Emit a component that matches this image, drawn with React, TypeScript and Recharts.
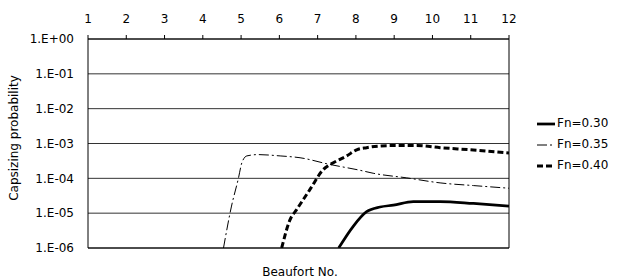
import React from 'react';
import { LineChart, Line, XAxis, YAxis, CartesianGrid, Legend, ReferenceLine } from 'recharts';

// ---- data ----
const beaufortTicks = [1, 2, 3, 4, 5, 6, 7, 8, 9, 10, 11, 12];
const probabilityTicks = [1e-6, 1e-5, 1e-4, 1e-3, 1e-2, 1e-1, 1];

const seriesNames = ['Fn=0.30', 'Fn=0.35', 'Fn=0.40'];

const fn030X = [7.55, 7.93, 8.28, 8.63, 8.98, 9.5, 10.2, 11.07, 12];
const fn030Y = [1e-6, 4.2e-6, 1.1e-5, 1.5e-5, 1.7e-5, 2.15e-5, 2.15e-5, 1.9e-5, 1.6e-5];

const fn035X = [4.54, 4.75, 4.93, 5.02, 5.15, 5.44, 6.02, 6.54, 7.32, 8.11, 8.45, 9.33, 10.2, 11.07, 12];
const fn035Y = [1e-6, 1.6e-5, 1e-4, 2.8e-4, 4.4e-4, 4.8e-4, 4.4e-4, 3.9e-4, 2.5e-4, 1.7e-4, 1.4e-4, 1.03e-4, 7.4e-5, 6.2e-5, 5.2e-5];

const fn040X = [6.06, 6.28, 6.45, 6.8, 7.15, 7.41, 7.76, 8.02, 8.28, 8.89, 9.59, 10.2, 11.07, 12];
const fn040Y = [1e-6, 6.5e-6, 1.26e-5, 4.8e-5, 1.8e-4, 2.8e-4, 4.4e-4, 6.6e-4, 7.6e-4, 8.7e-4, 8.7e-4, 7.6e-4, 6.5e-4, 5.3e-4];

const toPoints = (xs: number[], ys: number[]) => xs.map((x, i) => ({ x, y: ys[i] }));

const seriesData = [toPoints(fn030X, fn030Y), toPoints(fn035X, fn035Y), toPoints(fn040X, fn040Y)];

// ---- styles ----
const seriesStyles = [
  { strokeWidth: 2.75, dash: undefined as string | undefined },
  { strokeWidth: 1, dash: '10 3 2 3' },
  { strokeWidth: 3, dash: '6 3' },
];

const FONT = 'DejaVu Sans';

const formatProb = (v: number) => {
  const e = Math.round(Math.log10(v));
  return '1.E' + (e >= 0 ? '+' : '-') + String(Math.abs(e)).padStart(2, '0');
};

const renderLegend = () => (
  <div style={{ fontFamily: FONT, fontSize: 12, color: '#000' }}>
    {seriesNames.map((name, i) => (
      <div key={name} style={{ display: 'flex', alignItems: 'center', height: 21 }}>
        <svg width={18} height={10} style={{ display: 'block' }}>
          <line
            x1={0}
            x2={18}
            y1={5}
            y2={5}
            stroke="#000"
            strokeWidth={seriesStyles[i].strokeWidth}
            strokeDasharray={seriesStyles[i].dash}
          />
        </svg>
        <span style={{ marginLeft: 2, lineHeight: '21px', whiteSpace: 'nowrap' }}>{name}</span>
      </div>
    ))}
  </div>
);

export default function App() {
  return (
    <div style={{ position: 'absolute', left: 0, top: 0 }}>
      <LineChart width={617} height={278} margin={{ top: 0, right: 108, bottom: 30, left: 0 }}>
        <CartesianGrid vertical={false} stroke="#333" strokeWidth={1} />
        <XAxis
          type="number"
          dataKey="x"
          orientation="top"
          domain={[1, 12]}
          ticks={beaufortTicks}
          height={39}
          tickSize={4}
          tickMargin={12}
          axisLine={{ stroke: '#000' }}
          tickLine={{ stroke: '#000' }}
          tick={{ fill: '#000', fontSize: 12, fontFamily: FONT }}
          interval={0}
          allowDataOverflow
          label={{
            content: (props: any) => {
              const vb = props.viewBox || {};
              const cx = (vb.x ?? 88) + (vb.width ?? 421) / 2;
              return (
                <text x={cx + 1.5} y={275.5} textAnchor="middle" fill="#000" fontSize={12} fontFamily={FONT}>
                  Beaufort No.
                </text>
              );
            },
          }}
        />
        <YAxis
          type="number"
          dataKey="y"
          scale="log"
          domain={[1e-6, 1]}
          ticks={probabilityTicks}
          width={88}
          tickSize={0}
          tickMargin={14}
          tickLine={false}
          axisLine={{ stroke: '#000' }}
          tick={{ fill: '#000', fontSize: 12, fontFamily: FONT }}
          tickFormatter={formatProb}
          interval={0}
          allowDataOverflow
          label={{
            content: (props: any) => {
              const vb = props.viewBox || {};
              const cy = (vb.y ?? 39) + (vb.height ?? 209) / 2 - 5.5;
              return (
                <text
                  x={18}
                  y={cy}
                  transform={`rotate(-90 18 ${cy})`}
                  textAnchor="middle"
                  fill="#000"
                  fontSize={12}
                  fontFamily={FONT}
                >
                  Capsizing probability
                </text>
              );
            },
          }}
        />
        <ReferenceLine x={12} stroke="#000" strokeWidth={1} />
        <ReferenceLine y={1e-6} stroke="#000" strokeWidth={1} />
        {seriesData.map((d, i) => (
          <Line
            key={seriesNames[i]}
            name={seriesNames[i]}
            data={d}
            dataKey="y"
            type="monotone"
            stroke="#000"
            strokeWidth={seriesStyles[i].strokeWidth}
            strokeDasharray={seriesStyles[i].dash}
            dot={false}
            activeDot={false}
            isAnimationActive={false}
          />
        ))}
        <Legend
          layout="vertical"
          align="center"
          verticalAlign="middle"
          content={renderLegend}
          wrapperStyle={{ position: 'absolute', left: 537, top: 113, width: 80, height: 63 }}
        />
      </LineChart>
    </div>
  );
}
